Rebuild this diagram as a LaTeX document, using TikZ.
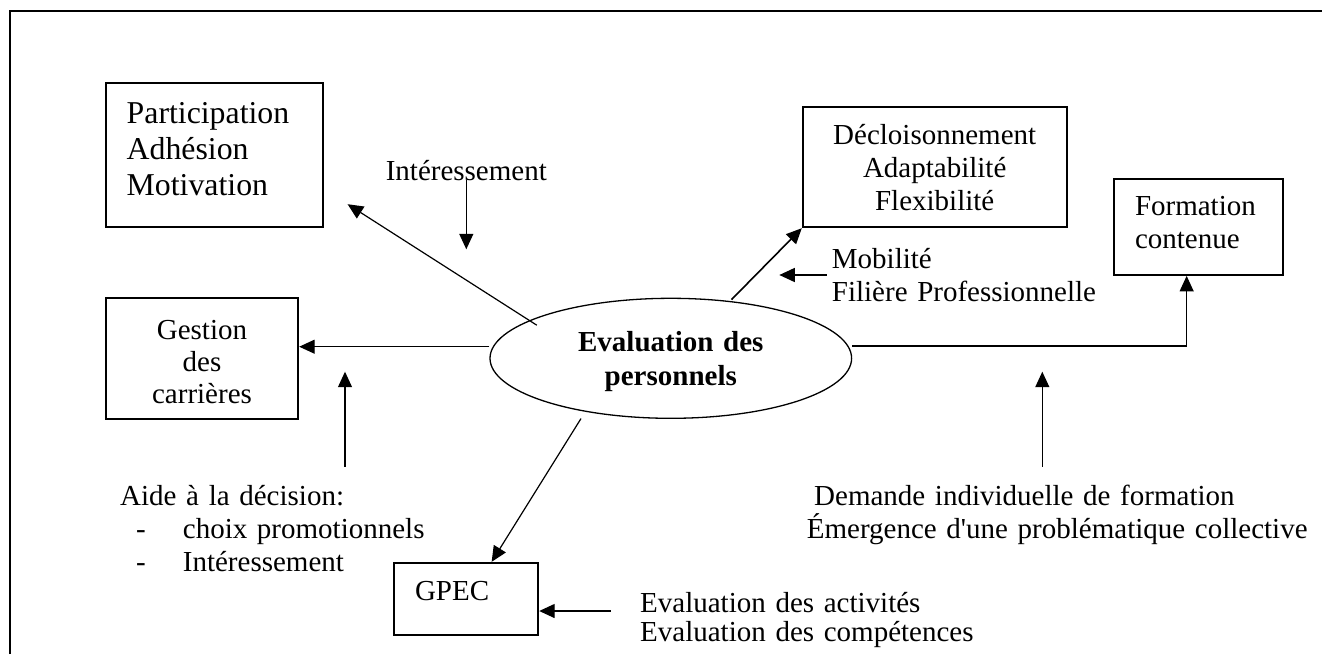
\documentclass[tikz,border=0pt]{standalone}
\usepackage{fontspec}
\setmainfont{Liberation Serif}
\usetikzlibrary{arrows.meta,shapes.geometric}
\begin{document}
\begin{tikzpicture}[x=1pt,y=-1pt,
  box/.style={draw, line width=1.8pt, inner xsep=21pt, inner ysep=0pt, anchor=base,
    font=\fontsize{29}{33.4}\selectfont},
  arr/.style={-{Triangle[length=15.5pt,width=14pt]}, line width=1.4pt},
  txt/.style={inner sep=0pt, anchor=base west, align=left,
    font=\fontsize{29}{33.4}\selectfont},
  frame/.style={line width=1.6pt}
]
\useasboundingbox (0,0) rectangle (1322,654);
\draw[frame] (10,654) -- (10,10.7) -- (1322,10.7);

% boxes
\node[box, align=left, text width=175pt, text height=40.6pt, text depth=104pt,
  font=\fontsize{31.8}{36.3}\selectfont] (part) at (214.2,123.3)
  {Participation\\Adhésion\\Motivation};
\node[box, align=center, inner xsep=5pt, text width=182.6pt, text height=40.7pt,
  text depth=80.3pt, font=\fontsize{29}{32}\selectfont] (gest) at (202,339)
  {Gestion\\des\\carrières};
\node[box, align=center, inner xsep=5pt, text width=254pt, text height=37.3pt,
  text depth=83.3pt] (decl) at (934.7,144)
  {Décloisonnement\\Adaptabilité\\Flexibilité};
\node[box, align=left, text width=127.3pt, text height=36pt, text depth=60pt]
  (form) at (1198.65,215) {Formation\\contenue};
\node[box, align=left, text width=102.3pt, text height=37.3pt, text depth=35pt]
  (gpec) at (466.15,600) {GPEC};

% central ellipse
\node[draw, ellipse, line width=1.3pt, minimum width=361.6pt, minimum height=120pt,
  inner sep=0pt, text width=220pt, align=center, text height=20pt, text depth=34.6pt,
  anchor=base, font=\fontsize{29}{34}\selectfont\bfseries] (ell) at (670.8,351)
  {Evaluation des\\personnels};

% free texts
\node[txt, anchor=base] (inter) at (466.3,180) {Intéressement};
\node[txt, text width=420pt] (aide) at (120,505)
  {Aide à la décision:\\
   \hspace*{16pt}\makebox[46.7pt][l]{-}choix promotionnels\\
   \hspace*{16pt}\makebox[46.7pt][l]{-}Intéressement};
\node[txt, text width=300pt] (mob) at (831.7,268.3) {Mobilité\\Filière Professionnelle};
\node[txt, text width=520pt] (dem) at (806.7,505)
  {\hspace*{7.3pt}Demande individuelle de formation\\Émergence d\textquotesingle une problématique collective};
\node[txt, text width=360pt, font=\fontsize{29}{29.5}\selectfont] (evt) at (640,612)
  {Evaluation des activités\\Evaluation des compétences};

% free arrow tails
\coordinate (aideT) at (345,466.7);
\coordinate (demT) at (1042.3,466.7);
\coordinate (mobT) at (826.7,275);
\coordinate (evT) at (610.7,611);

% connectors
\draw[arr, line width=1.2pt, shorten <=-9pt] (ell.165) -- ([xshift=24pt,yshift=24pt]part.south east);
\draw[arr] (inter.base) -- ++(0,69.3);
\draw[arr, line width=1.2pt] ([yshift=11.6pt]ell.west) -- ([yshift=11.6pt]ell.west -| gest.east);
\draw[arr, line width=1.2pt] (aideT) -- ++(0,-95);
\draw[arr, line width=1.6pt, shorten <=2pt] (ell.44) -- (decl.south west);
\draw[arr] (mobT) -- ++(-47.4,0);
\draw[arr, line width=1.2pt] ([yshift=12.3pt]ell.east) -| ([xshift=-12pt]form.south);
\draw[arr, line width=1.2pt] (demT) -- ++(0,-95);
\draw[arr, line width=1.2pt, shorten <=8pt] (ell.212) -- ([xshift=25.5pt]gpec.north);
\draw[arr] (evT) -- (evT -| gpec.east);
\end{tikzpicture}
\end{document}
